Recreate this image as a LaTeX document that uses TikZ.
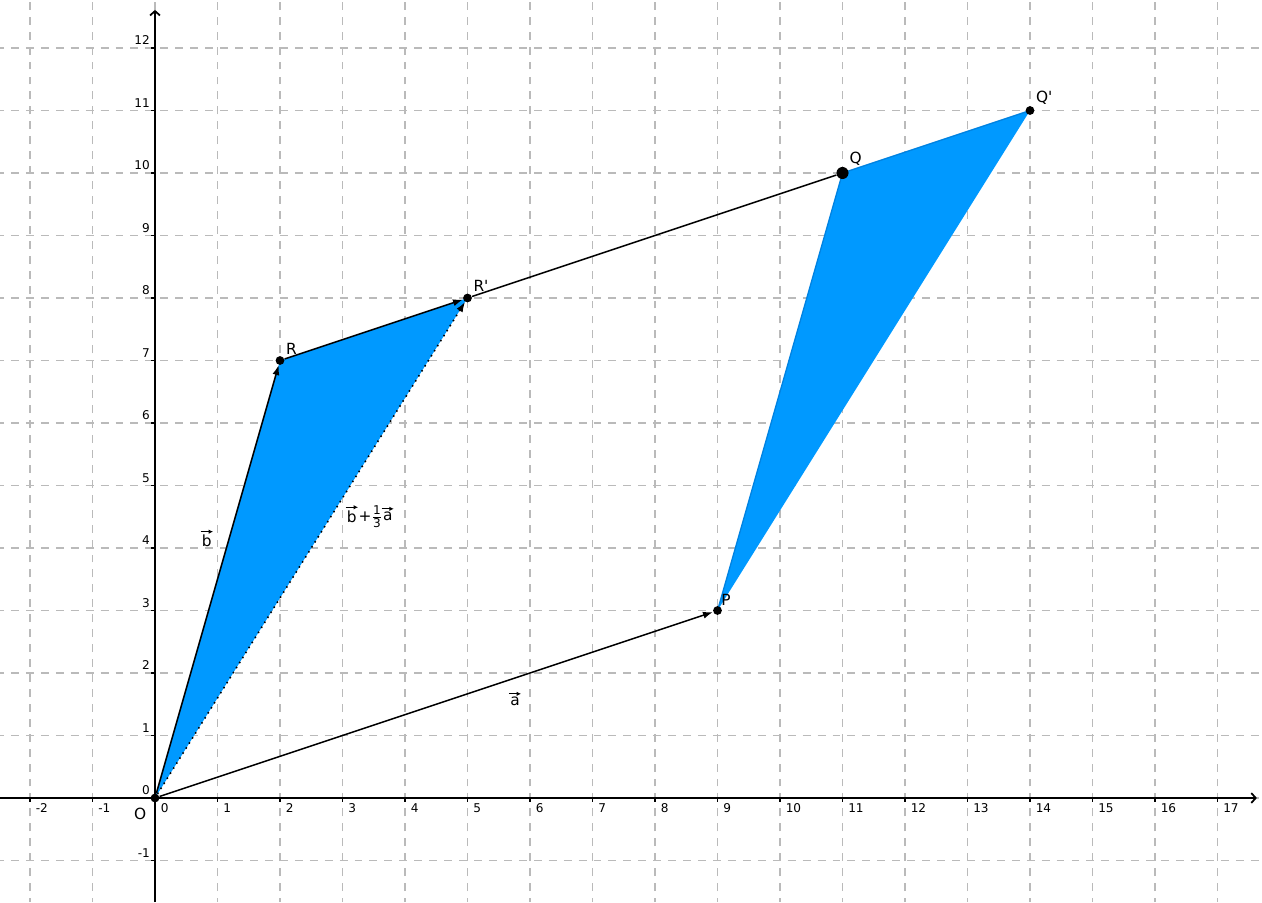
\documentclass[tikz,border=0pt]{standalone}
\usepackage{fontspec}
\setmainfont{DejaVu Sans}
\usetikzlibrary{arrows.meta,backgrounds,positioning}
\definecolor{areablue}{RGB}{0,153,255}
\definecolor{edgeblue}{RGB}{0,130,225}

\begin{document}
\begin{tikzpicture}[
  font=\fontsize{7}{8}\selectfont,
  >={Latex[length=4.5pt,width=3.2pt]},
  gridline/.style={draw=black!27, line width=0.8pt, dash pattern=on 3.6pt off 3.2pt, dash phase=1.8pt},
  axis/.style={-{Straight Barb[length=2pt,width=4.5pt]}, line width=0.8pt},
  vec/.style={->, line width=0.7pt},
  pt/.style={circle, fill=black, inner sep=0pt, minimum size=4pt},
  ticklabel/.style={font=\fontsize{5.5}{6}\selectfont, inner sep=1pt},
  ptlabel/.style={anchor=south west, inner sep=1pt},
  vlabel/.style={inner sep=0.4pt},
  labarrow/.style={-{Latex[length=2pt,width=2pt]}, line width=0.45pt}
]
\useasboundingbox (-2.48,-1.664) rectangle (17.712,12.768);

% points
\node[pt] (O) at (0,0) {};
\node[pt] (P) at (9,3) {};
\node[pt,minimum size=5.5pt] (Q) at (11,10) {};
\node[pt] (Qp) at (14,11) {};
\node[pt] (R) at (2,7) {};
\node[pt] (Rp) at (5,8) {};

\begin{scope}[on background layer]
  % grid
  \foreach \x in {-2,...,17}
    \draw[gridline] (\x,-1.664) -- (\x,12.768);
  \foreach \y in {-1,...,12}
    \draw[gridline] (-2.48,\y) -- (17.712,\y);
  % axes
  \draw[axis] (-2.48,0) -- (17.63,0);
  \draw[axis] (0,-1.664) -- (0,12.61);
  \foreach \x in {-2,...,17} {
    \draw[line width=0.6pt] (\x,0) -- (\x,-0.06);
    \node[ticklabel,anchor=north west] (xl\x) at (\x+0.05,-0.05) {\x};
  }
  \foreach \y in {-1,...,12} {
    \draw[line width=0.6pt] (0,\y) -- (-0.06,\y);
    \node[ticklabel,anchor=south east] (yl\y) at (-0.04,\y+0.01) {\y};
  }
  % shaded triangles
  \fill[areablue] (O.center) -- (R.center) -- (Rp.center) -- cycle;
  \fill[areablue] (P.center) -- (Q.center) -- (Qp.center) -- cycle;
  \draw[edgeblue,line width=0.6pt] (P.center) -- (Q.center) -- (Qp.center);
\end{scope}

% vectors
\draw[vec] (O) -- (P);
\draw[vec] (O) -- (R);
\draw[vec] (R) -- (Rp);
\draw[vec,dotted] (O) -- (Rp);
\draw[line width=0.7pt] (Rp) -- (Q);

% point labels
\node[anchor=north east,inner sep=1pt] (lO) at (-0.1,-0.12) {O};
\node[ptlabel] (lP) at (9.02,3.03) {P};
\node[ptlabel] (lQ) at (Q.north east) {Q};
\node[ptlabel] (lQp) at (Qp.north east) {Q\textquotesingle};
\node[ptlabel] (lR) at (R.north east) {R};
\node[ptlabel] (lRp) at (Rp.north east) {R\textquotesingle};

% vector labels
\node[vlabel] (la) at (5.76,1.54) {a};
\node[vlabel] (lb) at (0.83,4.11) {b};
\node[vlabel] (lbb) at (3.15,4.5) {b};
\node[vlabel,right=-0.4pt of lbb] (lplus) {+};
\node[vlabel,right=-1.6pt of lplus] (lfrac)
  {$\frac{\mbox{\fontsize{5.5}{5.5}\selectfont 1}}{\mbox{\fontsize{5.5}{5.5}\selectfont 3}}$};
\node[vlabel,right=-1.4pt of lfrac] (lba) {a};
\draw[labarrow] ([yshift=1pt]la.north west) -- ([yshift=1pt]la.north east);
\draw[labarrow] ([yshift=1pt]lb.north west) -- ([yshift=1pt]lb.north east);
\draw[labarrow] ([yshift=1pt]lbb.north west) -- ([yshift=1pt]lbb.north east);
\draw[labarrow] ([yshift=1pt]lba.north west) -- ([yshift=1pt]lba.north east);
\end{tikzpicture}
\end{document}
